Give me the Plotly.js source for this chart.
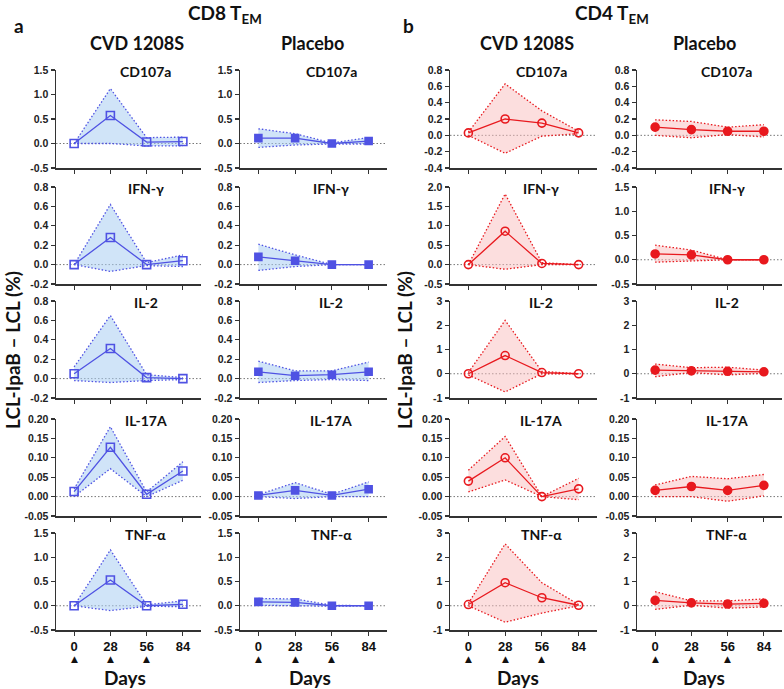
<!DOCTYPE html>
<html>
<head>
<meta charset="utf-8">
<script src="https://cdn.plot.ly/plotly-3.0.1.min.js"></script>
<style>
  html, body { margin: 0; padding: 0; background: #fff; }
  #chart { width: 784px; height: 689px; }
</style>
</head>
<body>
<div id="chart"></div>
<script>
// days of sampling
const days = [0, 28, 56, 84];
const vaccinationDays = [0, 28, 56];
const cytokines = ["CD107a", "IFN-γ", "IL-2", "IL-17A", "TNF-α"];

// CD8 TEM, CVD 1208S (rows = cytokines, cols = days)
const cd8CvdMean  = [[0, 0.57, 0.03, 0.04], [0, 0.28, 0, 0.04], [0.05, 0.31, 0.01, 0], [0.013, 0.127, 0.006, 0.066], [0, 0.53, 0, 0.03]];
const cd8CvdUpper = [[0, 1.12, 0.12, 0.13], [0, 0.62, 0.02, 0.1], [0.12, 0.65, 0.04, 0.01], [0.02, 0.18, 0.012, 0.09], [0, 1.15, 0.02, 0.1]];
const cd8CvdLower = [[0, 0, -0.05, -0.05], [0, -0.07, -0.01, -0.02], [-0.02, -0.04, -0.02, -0.01], [0, 0.072, 0, 0.042], [0, -0.1, -0.01, -0.02]];

// CD8 TEM, placebo
const cd8PlaMean  = [[0.11, 0.11, 0, 0.05], [0.08, 0.04, 0, 0], [0.07, 0.03, 0.04, 0.07], [0.003, 0.016, 0.003, 0.019], [0.08, 0.07, 0, 0]];
const cd8PlaUpper = [[0.3, 0.2, 0.01, 0.12], [0.21, 0.1, 0, 0], [0.18, 0.08, 0.08, 0.17], [0.005, 0.036, 0.006, 0.038], [0.15, 0.14, 0.01, 0]];
const cd8PlaLower = [[-0.08, -0.03, -0.01, -0.01], [-0.06, -0.02, 0, 0], [-0.04, -0.02, -0.01, -0.02], [0, -0.005, 0, 0], [0.01, 0, -0.01, 0]];

// CD4 TEM, CVD 1208S
const cd4CvdMean  = [[0.03, 0.2, 0.15, 0.03], [0, 0.86, 0.03, 0], [0, 0.75, 0.05, 0], [0.04, 0.1, 0, 0.02], [0.05, 0.95, 0.33, 0.02]];
const cd4CvdUpper = [[0.04, 0.63, 0.3, 0.05], [0, 1.82, 0.05, 0], [0.05, 2.2, 0.1, 0], [0.068, 0.155, 0, 0.047], [0.1, 2.55, 0.95, 0.05]];
const cd4CvdLower = [[0, -0.22, -0.01, 0.02], [0, -0.12, 0, 0], [-0.05, -0.75, 0, 0], [0.012, 0.043, 0, -0.008], [0, -0.68, -0.3, 0]];

// CD4 TEM, placebo
const cd4PlaMean  = [[0.1, 0.07, 0.05, 0.05], [0.12, 0.1, 0, 0], [0.15, 0.12, 0.1, 0.08], [0.016, 0.026, 0.016, 0.029], [0.22, 0.12, 0.07, 0.1]];
const cd4PlaUpper = [[0.19, 0.17, 0.1, 0.13], [0.3, 0.2, 0, 0], [0.4, 0.25, 0.27, 0.15], [0.03, 0.052, 0.046, 0.057], [0.58, 0.2, 0.2, 0.28]];
const cd4PlaLower = [[0, -0.03, 0.01, -0.02], [-0.05, -0.02, 0, 0], [-0.12, 0.05, -0.05, 0.02], [0, 0, -0.012, 0.002], [-0.15, 0.02, -0.1, -0.05]];

// y-axis ranges / tick steps per column (rows = cytokines)
const cd8YRange = [[-0.5, 1.5], [-0.2, 0.8], [-0.2, 0.8], [-0.05, 0.2], [-0.5, 1.5]];
const cd8YStep  = [0.5, 0.2, 0.2, 0.05, 0.5];
const cd4CvdYRange = [[-0.4, 0.8], [-0.5, 2.0], [-1, 3], [-0.05, 0.2], [-1, 3]];
const cd4PlaYRange = [[-0.4, 0.8], [-0.5, 1.5], [-1, 3], [-0.05, 0.2], [-1, 3]];
const cd4YStep  = [0.2, 0.5, 1, 0.05, 1];
const dayTickText = ["0", "28", "56", "84"];

const W = 784, H = 689;
const BLUE = "#4f52e3", BLUE_FILL = "rgba(170,205,243,0.55)";
const RED = "#e8191e", RED_FILL = "rgba(250,190,190,0.5)";
const DOTS = "1.5px,2px";

const columns = [
  { mean: cd8CvdMean, up: cd8CvdUpper, lo: cd8CvdLower, yr: cd8YRange, step: cd8YStep, color: BLUE, fill: BLUE_FILL, symbol: "square-open", size: 8, px: [56, 201] },
  { mean: cd8PlaMean, up: cd8PlaUpper, lo: cd8PlaLower, yr: cd8YRange, step: cd8YStep, color: BLUE, fill: BLUE_FILL, symbol: "square", size: 7, px: [240, 387] },
  { mean: cd4CvdMean, up: cd4CvdUpper, lo: cd4CvdLower, yr: cd4CvdYRange, step: cd4YStep, color: RED, fill: RED_FILL, symbol: "circle-open", size: 8, px: [450, 597] },
  { mean: cd4PlaMean, up: cd4PlaUpper, lo: cd4PlaLower, yr: cd4PlaYRange, step: cd4YStep, color: RED, fill: RED_FILL, symbol: "circle", size: 8, px: [637, 782] }
];
const rowPx = [[70, 168], [187, 284], [301, 398], [419, 516], [533, 630]];

function decimals(step) { return step >= 1 ? 0 : (step >= 0.1 ? 1 : 2); }

const traces = [];
const shapes = [];
const annotations = [];
const layout = {
  width: W, height: H,
  margin: { l: 0, r: 0, t: 0, b: 0 },
  paper_bgcolor: "#fff", plot_bgcolor: "#fff",
  showlegend: false,
  font: { family: "Arial, Liberation Sans, sans-serif", color: "#222" }
};

columns.forEach((c, ci) => {
  cytokines.forEach((name, ri) => {
    const n = ri * 4 + ci + 1;
    const xa = n === 1 ? "x" : "x" + n;
    const ya = n === 1 ? "y" : "y" + n;
    const ax = { xaxis: xa, yaxis: ya, hoverinfo: "skip" };

    traces.push({ ...ax, type: "scatter", mode: "lines", x: days, y: c.lo[ri],
      line: { color: c.color, width: 1.3, dash: DOTS } });
    traces.push({ ...ax, type: "scatter", mode: "lines", x: days, y: c.up[ri], fill: "tonexty", fillcolor: c.fill,
      line: { color: c.color, width: 1.3, dash: DOTS } });
    traces.push({ ...ax, type: "scatter", mode: "lines+markers", x: days, y: c.mean[ri],
      line: { color: c.color, width: 1.3 },
      marker: { symbol: c.symbol, size: c.size, color: c.color, line: { color: c.color, width: 1.6 } } });

    const yr = c.yr[ri], step = c.step[ri], d = decimals(step);
    const tv = [];
    for (let v = yr[0]; v <= yr[1] + 1e-9; v += step) tv.push(Math.round(v * 1000) / 1000);

    const lastRow = ri === cytokines.length - 1;
    layout["xaxis" + (n === 1 ? "" : n)] = {
      domain: [c.px[0] / W, c.px[1] / W], anchor: ya,
      range: [-14, 98], showgrid: false, zeroline: false,
      showline: true, linecolor: "#333", linewidth: 1.5,
      ticks: "outside", ticklen: 4, tickwidth: 1.2, tickcolor: "#333",
      tickvals: days, ticktext: dayTickText,
      showticklabels: lastRow,
      tickfont: { size: 13, color: "#111", weight: "bold" }
    };
    layout["yaxis" + (n === 1 ? "" : n)] = {
      domain: [1 - rowPx[ri][1] / H, 1 - rowPx[ri][0] / H], anchor: xa,
      range: yr, showgrid: false, zeroline: false,
      showline: true, linecolor: "#333", linewidth: 1.5,
      ticks: "outside", ticklen: 4, tickwidth: 1.2, tickcolor: "#333",
      tickvals: tv, ticktext: tv.map(v => v.toFixed(d)),
      tickfont: { size: 10.5, color: "#222", weight: "bold" }
    };

    // dotted zero reference line
    shapes.push({ type: "line", xref: xa + " domain", yref: ya, x0: 0, x1: 1, y0: 0, y1: 0,
      line: { color: "#777", width: 1, dash: DOTS }, layer: "below" });

    // cytokine label inside panel
    annotations.push({ xref: xa + " domain", yref: ya + " domain", x: 0.62, y: 0.98,
      xanchor: "center", yanchor: "middle", showarrow: false,
      text: "<b>" + name + "</b>", font: { family: "Lato, Open Sans, sans-serif", size: 14, color: "#111" } });

    // vaccination arrows under the bottom row
    if (lastRow) {
      vaccinationDays.forEach(dv => {
        annotations.push({ xref: xa, yref: "paper", x: dv, y: 1 - 659 / H,
          xanchor: "center", yanchor: "middle", showarrow: false,
          text: "▲", font: { family: "DejaVu Sans", size: 9, color: "#111" } });
      });
    }
  });
});

function note(x, y, text, size, extra = {}) {
  annotations.push({ xref: "paper", yref: "paper", x: x / W, y: 1 - y / H,
    xanchor: "center", yanchor: "middle", showarrow: false, text: text,
    font: { family: "Lato, Open Sans, sans-serif", size: size, color: "#111" }, ...extra });
}

note(225, 14, "<b>CD8 T<sub>EM</sub></b>", 19);
note(612, 14, "<b>CD4 T<sub>EM</sub></b>", 19);
note(19, 25, "<b>a</b>", 19);
note(409, 25, "<b>b</b>", 19);
note(137, 43, "<b>CVD 1208S</b>", 18);
note(312, 43, "<b>Placebo</b>", 18);
note(527, 43, "<b>CVD 1208S</b>", 18);
note(704, 43, "<b>Placebo</b>", 18);
note(125, 677, "<b>Days</b>", 19);
note(310, 677, "<b>Days</b>", 19);
note(518, 677, "<b>Days</b>", 19);
note(704, 677, "<b>Days</b>", 19);
note(12, 350, "<b>LCL-IpaB – LCL (%)</b>", 19, { textangle: -90 });
note(404, 350, "<b>LCL-IpaB – LCL (%)</b>", 19, { textangle: -90 });

layout.shapes = shapes;
layout.annotations = annotations;

Plotly.newPlot("chart", traces, layout, { staticPlot: true, displayModeBar: false });
</script>
</body>
</html>
